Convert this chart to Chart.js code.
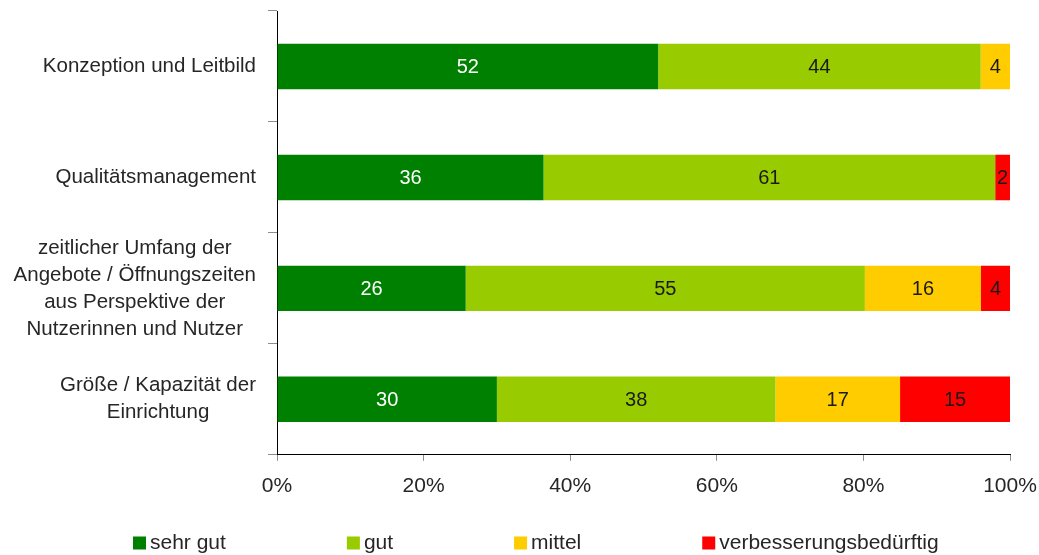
<!DOCTYPE html>
<html>
<head>
<meta charset="utf-8">
<script src="https://cdn.jsdelivr.net/npm/chart.js@4/dist/chart.umd.min.js"></script>
<style>
  html, body { margin: 0; padding: 0; background: #fff; }
  #wrap { width: 1039px; height: 555px; }
</style>
</head>
<body>
<div id="wrap"><canvas id="c" width="1039" height="555"></canvas></div>
<script>
const categories = [
  ["Konzeption und Leitbild"],
  ["Qualitätsmanagement"],
  ["zeitlicher Umfang der", "Angebote / Öffnungszeiten", "aus Perspektive der", "Nutzerinnen und Nutzer"],
  ["Größe / Kapazität der", "Einrichtung"]
];
const seriesNames = ["sehr gut", "gut", "mittel", "verbesserungsbedürftig"];
const sehrGut = [52, 36, 26, 30];
const gut = [44, 61, 55, 38];
const mittel = [4, 0, 16, 17];
const verbesserungsbeduerftig = [0, 2, 4, 15];
const xTickLabels = ["0%", "20%", "40%", "60%", "80%", "100%"];
const colors = ["#008000", "#99CC00", "#FFCC00", "#FF0000"];

const raw = [sehrGut, gut, mittel, verbesserungsbeduerftig];
const rowSums = categories.map((_, i) => raw.reduce((s, arr) => s + arr[i], 0));
const pct = raw.map(arr => arr.map((v, i) => v / rowSums[i] * 100));

const FONT = '"Liberation Sans", Arial, sans-serif';
const TXT = '#262626';

const valueLabels = {
  id: 'valueLabels',
  afterDatasetsDraw(chart) {
    const ctx = chart.ctx;
    ctx.save();
    ctx.font = '20px ' + FONT;
    ctx.textAlign = 'center';
    ctx.textBaseline = 'middle';
    chart.data.datasets.forEach((ds, di) => {
      const meta = chart.getDatasetMeta(di);
      meta.data.forEach((el, i) => {
        const v = raw[di][i];
        if (!v) return;
        const p = el.getProps(['x', 'y', 'base'], true);
        ctx.fillStyle = di === 0 ? '#ffffff' : '#1a1a1a';
        ctx.fillText(String(v), (p.x + p.base) / 2, p.y + 1);
      });
    });
    ctx.restore();
  }
};

const catLabels = {
  id: 'catLabels',
  afterDraw(chart) {
    const ctx = chart.ctx;
    const yScale = chart.scales.y;
    const rightEdge = 256;
    const lh = 27;
    ctx.save();
    ctx.font = '20.5px ' + FONT;
    ctx.fillStyle = TXT;
    ctx.textAlign = 'center';
    ctx.textBaseline = 'middle';
    categories.forEach((lines, i) => {
      const yc = yScale.getPixelForValue(i);
      const w = Math.max(...lines.map(l => ctx.measureText(l).width));
      const xc = rightEdge - w / 2;
      const y0 = yc - (lines.length - 1) * lh / 2;
      lines.forEach((l, k) => ctx.fillText(l, xc, y0 + k * lh));
    });
    ctx.restore();
  }
};

const customLegend = {
  id: 'customLegend',
  afterDraw(chart) {
    const ctx = chart.ctx;
    ctx.save();
    ctx.font = '21px ' + FONT;
    ctx.textBaseline = 'middle';
    ctx.textAlign = 'left';
    const box = 13, gapText = 4, gap = 121, y = 543;
    let x = 133;
    chart.data.datasets.forEach(ds => {
      ctx.fillStyle = ds.backgroundColor;
      ctx.fillRect(x, y - box / 2, box, box);
      ctx.fillStyle = TXT;
      ctx.fillText(ds.label, x + box + gapText, y);
      x += box + gapText + ctx.measureText(ds.label).width + gap;
    });
    ctx.restore();
  }
};

new Chart(document.getElementById('c'), {
  type: 'bar',
  data: {
    labels: categories.map(c => c.join(' ')),
    datasets: seriesNames.map((name, i) => ({
      label: name,
      data: pct[i],
      backgroundColor: colors[i],
      borderWidth: 0,
      barPercentage: 0.41,
      categoryPercentage: 1.0
    }))
  },
  options: {
    indexAxis: 'y',
    responsive: false,
    animation: false,
    devicePixelRatio: 1,
    layout: { padding: { top: 11, right: 29, left: 0, bottom: 43 } },
    plugins: {
      legend: { display: false },
      tooltip: { enabled: false }
    },
    scales: {
      x: {
        stacked: true,
        min: 0,
        max: 100,
        ticks: {
          stepSize: 20,
          padding: 13,
          color: TXT,
          font: { family: FONT, size: 21 },
          callback: (v) => xTickLabels[Math.round(v / 20)]
        },
        grid: { drawOnChartArea: false, drawTicks: true, tickLength: 6, color: '#8c8c8c' },
        border: { color: '#000000', width: 1 },
        afterFit: (scale) => { scale.paddingRight = 0; scale.paddingLeft = 0; }
      },
      y: {
        stacked: true,
        ticks: { display: false },
        grid: { drawOnChartArea: false, drawTicks: true, tickLength: 9, offset: true, color: '#8c8c8c' },
        border: { color: '#000000', width: 1 },
        afterFit: (scale) => { scale.width = 277; }
      }
    }
  },
  plugins: [valueLabels, catLabels, customLegend]
});
</script>
</body>
</html>
